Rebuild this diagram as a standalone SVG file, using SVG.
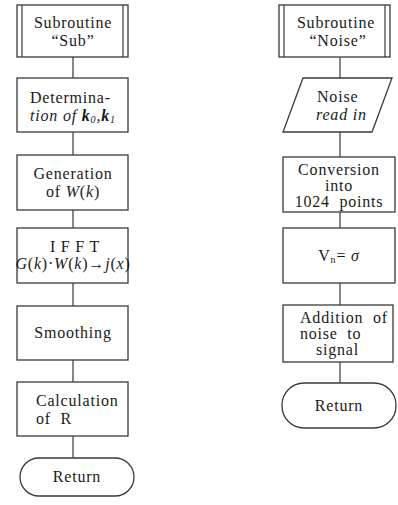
<svg xmlns="http://www.w3.org/2000/svg" width="398" height="505" viewBox="0 0 398 505">
<style>
.b{fill:#fff;stroke:#3a3a3a;stroke-width:1.3}
.c{fill:none;stroke:#3a3a3a;stroke-width:1.2}
text{font-family:"Liberation Serif","Times New Roman",serif;font-size:16px;fill:#1a1a1a;letter-spacing:0.8px}
.m{text-anchor:middle}
.i{font-style:italic}
</style>
<rect width="398" height="505" fill="#fff"/>
<g id="connectors">
<path class="c" d="M73 57V78M73 132V155M73 210V228M73 283V306M73 360V382M73 436V458"/>
<path class="c" d="M340 57V78M340 132V157M340 212V228M340 283V305M340 362V383"/>
</g>
<g id="sub">
<rect class="b" x="17" y="5" width="111" height="52"/>
<path class="c" d="M22 5V57M123 5V57"/>
<text class="m" x="73" y="28">Subroutine</text>
<text class="m" x="73" y="46">“Sub”</text>
</g>
<g id="determination">
<rect class="b" x="17" y="78" width="111" height="54"/>
<text x="30" y="103">Determina-</text>
<text x="30" y="121" class="i">tion of <tspan font-weight="bold">k</tspan><tspan font-size="10" dy="2">0</tspan><tspan dy="-2">,</tspan><tspan font-weight="bold">k</tspan><tspan font-size="10" dy="2">1</tspan></text>
</g>
<g id="generation">
<rect class="b" x="17" y="155" width="111" height="55"/>
<text class="m" x="73" y="179">Generation</text>
<text class="m" x="73" y="197">of <tspan class="i">W</tspan>(<tspan class="i">k</tspan>)</text>
</g>
<g id="ifft">
<rect class="b" x="17" y="228" width="111" height="55"/>
<text class="m" x="75" y="252" letter-spacing="4">I F F T</text>
<text class="m" x="73" y="269" letter-spacing="0" font-size="14"><tspan class="i">G</tspan>(<tspan class="i">k</tspan>)·<tspan class="i">W</tspan>(<tspan class="i">k</tspan>)→<tspan class="i">j</tspan>(<tspan class="i">x</tspan>)</text>
</g>
<g id="smoothing">
<rect class="b" x="17" y="306" width="111" height="54"/>
<text class="m" x="73" y="338">Smoothing</text>
</g>
<g id="calculation">
<rect class="b" x="17" y="382" width="111" height="54"/>
<text x="36" y="406">Calculation</text>
<text x="36" y="424" xml:space="preserve">of  R</text>
</g>
<g id="return1">
<rect class="b" x="20" y="458" width="114" height="38" rx="19"/>
<text class="m" x="77" y="482">Return</text>
</g>
<g id="noise">
<rect class="b" x="279" y="5" width="111" height="52"/>
<path class="c" d="M284 5V57M385 5V57"/>
<text class="m" x="336" y="28">Subroutine</text>
<text class="m" x="338" y="46">“Noise”</text>
</g>
<g id="readin">
<polygon class="b" points="303,78 392,78 372,132 283,132"/>
<text x="317" y="102">Noise</text>
<text x="316" y="120" class="i">read in</text>
</g>
<g id="conversion">
<rect class="b" x="283" y="157" width="112" height="55"/>
<text class="m" x="339" y="175">Conversion</text>
<text class="m" x="339" y="191">into</text>
<text class="m" x="339" y="207" xml:space="preserve">1024  points</text>
</g>
<g id="vn">
<rect class="b" x="283" y="228" width="112" height="55"/>
<text class="m" x="339" y="261">V<tspan font-size="10" dy="2">n</tspan><tspan dy="-2">=</tspan> <tspan class="i">σ</tspan></text>
</g>
<g id="addition">
<rect class="b" x="283" y="305" width="110" height="57"/>
<text x="300" y="323" xml:space="preserve">Addition  of</text>
<text x="300" y="339" xml:space="preserve">noise  to</text>
<text x="316" y="355">signal</text>
</g>
<g id="return2">
<rect class="b" x="282" y="383" width="114" height="45" rx="22"/>
<text class="m" x="339" y="411">Return</text>
</g>
</svg>
